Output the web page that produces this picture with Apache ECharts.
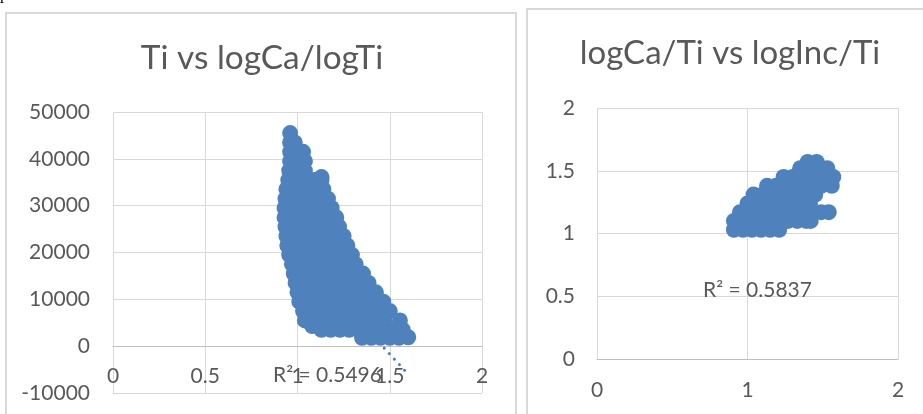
<!DOCTYPE html>
<html>
<head>
<meta charset="utf-8">
<script src="https://cdn.jsdelivr.net/npm/echarts@6/dist/echarts.min.js"></script>
<style>
html,body{margin:0;padding:0;background:#fff;}
#chart{width:923px;height:414px;}
</style>
</head>
<body>
<div id="chart"></div>
<script>
// ---- Chart 1: Ti vs logCa/logTi (x = logCa/logTi, y = Ti) ----
const titleLeft = 'Ti vs logCa/logTi';
const leftXRange = [0, 2, 0.5];
const leftYRange = [-10000, 50000, 10000];
const leftPoints = [
  [0.96,45500],
  [0.96,43500],[0.985,43500],
  [0.96,41500],[1.0,41500],[1.03,41500],
  [0.96,39500],[1.0,39500],[1.04,39500],
  [0.955,37500],[1.0,37500],[1.04,37500],
  [1.13,36100],
  [0.95,35500],[1.0,35500],[1.05,35500],[1.09,35500],[1.13,35500],
  [0.94,33500],[0.99,33500],[1.04,33500],[1.09,33500],[1.14,33500],
  [0.935,31500],[0.98,31500],[1.03,31500],[1.08,31500],[1.12,31500],[1.165,31500],
  [0.93,29500],[0.98,29500],[1.03,29500],[1.08,29500],[1.13,29500],[1.185,29500],
  [0.93,27500],[0.98,27500],[1.03,27500],[1.08,27500],[1.12,27500],[1.165,27500],[1.21,27500],
  [0.935,25500],[0.98,25500],[1.03,25500],[1.08,25500],[1.13,25500],[1.18,25500],[1.225,25500],
  [0.94,23500],[0.99,23500],[1.04,23500],[1.09,23500],[1.14,23500],[1.19,23500],[1.25,23500],
  [0.945,21500],[0.99,21500],[1.04,21500],[1.09,21500],[1.14,21500],[1.19,21500],[1.23,21500],[1.27,21500],
  [0.955,19500],[1.0,19500],[1.05,19500],[1.1,19500],[1.15,19500],[1.2,19500],[1.25,19500],[1.295,19500],
  [0.97,17500],[1.02,17500],[1.07,17500],[1.12,17500],[1.17,17500],[1.22,17500],[1.27,17500],[1.315,17500],
  [0.98,15500],[1.03,15500],[1.08,15500],[1.13,15500],[1.18,15500],[1.23,15500],[1.28,15500],[1.32,15500],[1.355,15500],
  [0.99,13500],[1.04,13500],[1.09,13500],[1.14,13500],[1.19,13500],[1.24,13500],[1.29,13500],[1.34,13500],[1.385,13500],
  [1.0,11500],[1.05,11500],[1.1,11500],[1.15,11500],[1.2,11500],[1.25,11500],[1.3,11500],[1.35,11500],[1.39,11500],[1.425,11500],
  [1.01,9500],[1.06,9500],[1.11,9500],[1.16,9500],[1.21,9500],[1.26,9500],[1.31,9500],[1.36,9500],[1.41,9500],[1.465,9500],
  [1.03,7500],[1.08,7500],[1.13,7500],[1.18,7500],[1.23,7500],[1.28,7500],[1.33,7500],[1.38,7500],[1.43,7500],[1.47,7500],[1.5,7500],
  [1.04,5500],[1.09,5500],[1.14,5500],[1.19,5500],[1.24,5500],[1.29,5500],[1.34,5500],[1.39,5500],[1.43,5500],[1.47,5500],[1.555,5500],
  [1.08,4300],
  [1.13,3500],[1.18,3500],[1.23,3500],[1.28,3500],[1.33,3500],[1.38,3500],[1.43,3500],[1.48,3500],[1.53,3500],[1.57,3500],
  [1.35,1800],[1.4,1800],[1.45,1800],[1.5,1800],[1.55,1800],[1.6,1900]
];
const leftTrend = [[0.92, 23170], [1.605, -6210]];
const leftR2 = 'R\u00B2 = 0.5496';

// ---- Chart 2: logCa/Ti vs logInc/Ti ----
const titleRight = 'logCa/Ti vs logInc/Ti';
const rightXRange = [0, 2, 1];
const rightYRange = [0, 2, 0.5];
const rightPoints = [
  [0.91,1.03],[0.97,1.03],[1.03,1.03],[1.09,1.03],[1.15,1.03],[1.21,1.03],
  [0.91,1.10],[0.97,1.10],[1.03,1.10],[1.09,1.10],[1.15,1.10],[1.21,1.10],[1.27,1.10],[1.33,1.10],[1.39,1.10],[1.42,1.10],
  [0.95,1.17],[1.01,1.17],[1.07,1.17],[1.13,1.17],[1.19,1.17],[1.25,1.17],[1.31,1.17],[1.37,1.17],[1.43,1.17],[1.49,1.17],[1.54,1.17],
  [1.0,1.24],[1.06,1.24],[1.12,1.24],[1.18,1.24],[1.24,1.24],[1.30,1.24],[1.36,1.24],[1.415,1.24],
  [1.04,1.31],[1.10,1.31],[1.16,1.31],[1.22,1.31],[1.28,1.31],[1.34,1.31],[1.40,1.31],[1.45,1.31],
  [1.13,1.38],[1.19,1.38],[1.25,1.38],[1.31,1.38],[1.37,1.38],[1.43,1.38],[1.49,1.38],[1.56,1.38],
  [1.24,1.45],[1.30,1.45],[1.36,1.45],[1.42,1.45],[1.48,1.45],[1.54,1.45],[1.57,1.45],
  [1.35,1.52],[1.41,1.52],[1.47,1.52],[1.53,1.52],
  [1.40,1.57],[1.46,1.57]
];
const rightR2 = 'R\u00B2 = 0.5837';

const BLUE = '#4F81BD';
const TXT = '#595959';
const GRID = '#D9D9D9';
const FONT = 'Lato';

function xAxisCfg(gi, r, margin, offset) {
  return {
    gridIndex: gi, type: 'value', min: r[0], max: r[1], interval: r[2],
    offset: offset,
    axisLine: { show: true, onZero: false, lineStyle: { color: '#BFBFBF', width: 1 } },
    axisTick: { show: false },
    splitLine: { show: true, lineStyle: { color: GRID, width: 1 } },
    axisLabel: { color: TXT, fontFamily: FONT, fontSize: 21, margin: margin, formatter: v => String(v) }
  };
}
function yAxisCfg(gi, r, margin) {
  return {
    gridIndex: gi, type: 'value', min: r[0], max: r[1], interval: r[2],
    axisLine: { show: false },
    axisTick: { show: false },
    splitLine: { show: true, lineStyle: { color: GRID, width: 1 } },
    axisLabel: { color: TXT, fontFamily: FONT, fontSize: 21, margin: margin, formatter: v => String(v) }
  };
}

const chart = echarts.init(document.getElementById('chart'), null, { renderer: 'canvas' });
chart.setOption({
  animation: false,
  backgroundColor: '#ffffff',
  grid: [
    { left: 113, top: 112, width: 369, height: 281, containLabel: false, outerBoundsMode: 'none' },
    { left: 597, top: 108, width: 301, height: 251, containLabel: false, outerBoundsMode: 'none' }
  ],
  xAxis: [ xAxisCfg(0, leftXRange, 20, -47), xAxisCfg(1, rightXRange, 21, 0) ],
  yAxis: [ yAxisCfg(0, leftYRange, 23), yAxisCfg(1, rightYRange, 22) ],
  series: [
    {
      type: 'line', xAxisIndex: 0, yAxisIndex: 0, data: leftTrend,
      symbol: 'none', z: 1,
      lineStyle: { color: BLUE, width: 3, type: [0.1, 7.4], cap: 'round' }
    },
    {
      type: 'scatter', xAxisIndex: 0, yAxisIndex: 0, data: leftPoints,
      symbolSize: 16, z: 2, itemStyle: { color: BLUE, opacity: 1 }
    },
    {
      type: 'scatter', xAxisIndex: 1, yAxisIndex: 1, data: rightPoints,
      symbolSize: 16, z: 2, itemStyle: { color: BLUE, opacity: 1 }
    }
  ],
  graphic: [
    { type: 'rect', z: -10, shape: { x: 6, y: 13, width: 510, height: 500 },
      style: { fill: 'none', stroke: GRID, lineWidth: 2 } },
    { type: 'rect', z: -10, shape: { x: 527, y: 9, width: 500, height: 500 },
      style: { fill: 'none', stroke: GRID, lineWidth: 2 } },
    { type: 'text', x: 0, y: -13, style: { text: 'p', font: '16px "Liberation Serif"', fill: '#000' } },
    { type: 'text', x: 262, y: 58, style: { text: titleLeft, font: '33.4px Lato', fill: TXT, align: 'center', verticalAlign: 'middle' } },
    { type: 'text', x: 730, y: 53, style: { text: titleRight, font: '33px Lato', fill: TXT, align: 'center', verticalAlign: 'middle' } },
    { type: 'text', x: 273, y: 375, z: 100, style: { text: leftR2, font: '21px Lato', fill: TXT, align: 'left', verticalAlign: 'middle' } },
    { type: 'text', x: 703, y: 290, z: 100, style: { text: rightR2, font: '21px Lato', fill: TXT, align: 'left', verticalAlign: 'middle' } }
  ]
});
</script>
</body>
</html>
